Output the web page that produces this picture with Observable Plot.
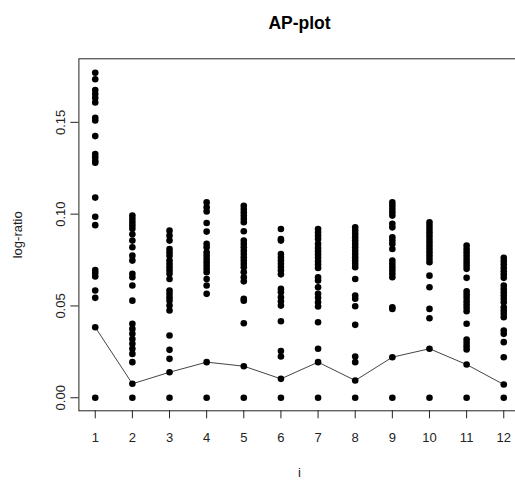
<!DOCTYPE html>
<html>
<head>
<meta charset="utf-8">
<script src="https://cdn.jsdelivr.net/npm/d3@7"></script>
<script src="https://cdn.jsdelivr.net/npm/@observablehq/plot@0.6"></script>
<style>
  html, body { margin: 0; padding: 0; background: white; overflow: hidden; }
  #chart svg { font-family: "Liberation Sans", Arial, sans-serif; }
</style>
</head>
<body>
<div id="chart"></div>
<script>
// Observed log-ratio values for each i (points)
const v1 = [0.177, 0.1735, 0.1676, 0.1654, 0.1632, 0.1608, 0.1525, 0.151, 0.1425, 0.1327, 0.131, 0.129, 0.128, 0.109, 0.0986, 0.094, 0.0696, 0.068, 0.066, 0.0584, 0.0544, 0.0384, 0];
const v2 = [0.0992, 0.0974, 0.0956, 0.0938, 0.092, 0.089, 0.0856, 0.082, 0.0774, 0.0747, 0.0675, 0.0656, 0.0611, 0.0529, 0.0403, 0.0375, 0.0348, 0.032, 0.0294, 0.0267, 0.0239, 0.0194, 0.0076, 0];
const v3 = [0.091, 0.0883, 0.0856, 0.081, 0.0792, 0.0774, 0.0747, 0.0729, 0.0711, 0.0693, 0.0675, 0.0647, 0.0584, 0.0566, 0.0547, 0.0529, 0.0502, 0.0475, 0.0339, 0.0261, 0.0212, 0.0139, 0];
const v4 = [0.1064, 0.1037, 0.1015, 0.0952, 0.0905, 0.0838, 0.082, 0.0792, 0.0774, 0.0756, 0.0738, 0.072, 0.0702, 0.0684, 0.0647, 0.0611, 0.0566, 0.0194, 0];
const v5 = [0.1046, 0.1028, 0.101, 0.0992, 0.0974, 0.0956, 0.0907, 0.0856, 0.0838, 0.082, 0.0801, 0.0783, 0.0765, 0.0747, 0.0729, 0.0711, 0.0684, 0.0656, 0.0634, 0.0539, 0.0529, 0.0406, 0.0172, 0];
const v6 = [0.0919, 0.0865, 0.0856, 0.0783, 0.0766, 0.0748, 0.073, 0.0712, 0.0693, 0.0672, 0.0593, 0.0575, 0.0547, 0.0526, 0.0502, 0.0417, 0.0254, 0.0225, 0.0103, 0];
const v7 = [0.0919, 0.0901, 0.0883, 0.0865, 0.0838, 0.0816, 0.0798, 0.078, 0.0762, 0.0743, 0.0725, 0.0707, 0.0656, 0.0638, 0.0602, 0.0566, 0.0544, 0.052, 0.0497, 0.0411, 0.0267, 0.0194, 0];
const v8 = [0.0928, 0.091, 0.0892, 0.0874, 0.0856, 0.0838, 0.082, 0.0801, 0.0783, 0.0765, 0.0747, 0.0729, 0.0711, 0.0647, 0.0557, 0.0539, 0.0498, 0.0397, 0.0225, 0.0194, 0.0094, 0];
const v9 = [0.1064, 0.1046, 0.1028, 0.101, 0.0992, 0.0947, 0.0928, 0.0874, 0.0856, 0.0838, 0.081, 0.0747, 0.0729, 0.0711, 0.0693, 0.0675, 0.0656, 0.0493, 0.0484, 0.0221, 0];
const v10 = [0.0955, 0.0937, 0.0919, 0.0901, 0.0883, 0.0865, 0.0847, 0.0829, 0.0811, 0.0793, 0.0774, 0.0756, 0.0738, 0.0665, 0.0602, 0.0484, 0.0433, 0.0267, 0];
const v11 = [0.0829, 0.081, 0.0792, 0.0774, 0.0756, 0.0738, 0.072, 0.0702, 0.0653, 0.058, 0.0562, 0.0544, 0.0526, 0.0508, 0.049, 0.0471, 0.0403, 0.0317, 0.0299, 0.0281, 0.0263, 0.0181, 0];
const v12 = [0.0762, 0.0744, 0.0726, 0.0707, 0.0689, 0.0671, 0.0653, 0.0611, 0.0593, 0.0575, 0.0557, 0.0539, 0.052, 0.0493, 0.0475, 0.0457, 0.0439, 0.0366, 0.0348, 0.0303, 0.0221, 0.0072, 0];

// Connected line values (one per i)
const iValues = [1, 2, 3, 4, 5, 6, 7, 8, 9, 10, 11, 12];
const lineValues = [0.0384, 0.0076, 0.0139, 0.0194, 0.0172, 0.0103, 0.0194, 0.0094, 0.0221, 0.0267, 0.0181, 0.0072];

// Axis ticks and labels
const yTicks = [0, 0.05, 0.10, 0.15];
const yTickLabels = ["0.00", "0.05", "0.10", "0.15"];
const titleText = "AP-plot";
const xLabel = "i";
const yLabel = "log-ratio";

const groups = [v1, v2, v3, v4, v5, v6, v7, v8, v9, v10, v11, v12];
const points = groups.flatMap((vals, k) => vals.map(v => ({i: iValues[k], v})));
const line = iValues.map((i, k) => ({i, v: lineValues[k]}));
const yLab = yTicks.map((t, k) => ({t, label: yTickLabels[k]}));

const W = 515, H = 481;
const mL = 78.4, mR = -4.6, mT = 58.3, mB = 70.7;
const yMax = 0.1775;

const chart = Plot.plot({
  width: W,
  height: H,
  marginLeft: mL,
  marginRight: mR,
  marginTop: mT,
  marginBottom: mB,
  style: {fontFamily: "'Liberation Sans', Arial, sans-serif", fontSize: "13px", color: "#000", background: "white", overflow: "visible"},
  x: {domain: [1 - 0.44, 12 + 0.44], range: [mL, W - mR], axis: null},
  y: {domain: [-0.04 * yMax, 1.04 * yMax], range: [H - mB, mT], axis: null},
  marks: [
    Plot.frame({stroke: "#222"}),
    Plot.axisX({ticks: iValues, tickSize: 8, tickPadding: 14, tickFormat: d => String(d), fontSize: 13, stroke: "#222", fill: "#222", anchor: "bottom", label: null}),
    Plot.axisY({ticks: yTicks, tickSize: 8, tickFormat: () => "", stroke: "#222", anchor: "left", label: null}),
    Plot.text(yLab, {y: "t", text: "label", frameAnchor: "left", dx: -18.4, rotate: -90, textAnchor: "middle", lineAnchor: "middle", fontSize: 13, fill: "#222"}),
    Plot.line(line, {x: "i", y: "v", stroke: "#444", strokeWidth: 1}),
    Plot.dot(points, {x: "i", y: "v", r: 3.3, fill: "black", stroke: "none"}),
    Plot.text([titleText], {frameAnchor: "top", dy: 23 - mT, text: d => d, fontSize: 17.5, fontWeight: "bold", lineAnchor: "middle", fill: "#000"}),
    Plot.text([xLabel], {frameAnchor: "bottom", dy: 472 - (H - mB), text: d => d, fontSize: 13, lineAnchor: "middle", fill: "#222"}),
    Plot.text([yLabel], {frameAnchor: "left", dx: 17 - mL, text: d => d, fontSize: 13, rotate: -90, textAnchor: "middle", lineAnchor: "middle", fill: "#222"})
  ]
});
document.getElementById("chart").appendChild(chart);
</script>
</body>
</html>
